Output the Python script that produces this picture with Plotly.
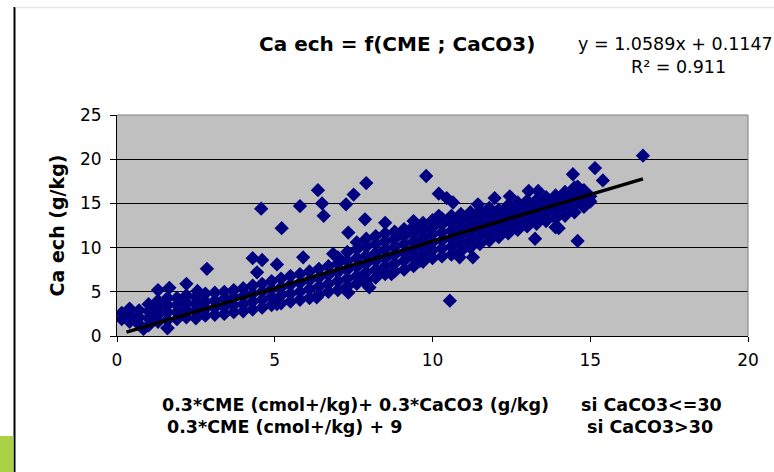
import plotly.graph_objects as go

# ---- data ----
# dense cloud, column by column: x position and the y values stacked at it
band_x = [0.15, 0.4, 0.7, 1.0, 1.3, 1.6, 1.9, 2.2, 2.5, 2.8, 3.1, 3.4, 3.7, 4.0, 4.3, 4.6,
          4.9, 5.2, 5.5, 5.8, 6.1, 6.4, 6.7, 7.0, 7.3, 7.6, 7.9, 8.2, 8.5, 8.8, 9.1, 9.4,
          9.7, 10.0, 10.3, 10.6, 10.9, 11.2, 11.5, 11.8, 12.1, 12.4, 12.7, 13.0, 13.3,
          13.6, 13.9, 14.2, 14.5, 14.8, 15.0]
band_y = [
    [1.9, 2.6], [1.6, 2.4, 3.1], [1.3, 2.1, 2.9], [1.2, 2.0, 2.8, 3.6],
    [1.6, 2.4, 3.2, 4.0], [0.9, 1.8, 2.7, 3.5, 4.3], [1.9, 2.7, 3.5, 4.3],
    [2.1, 3.0, 3.8, 4.6], [2.0, 2.8, 3.6, 4.4], [2.3, 3.1, 3.9, 4.8],
    [2.4, 3.2, 4.0, 4.9], [2.5, 3.3, 4.2, 5.0], [2.7, 3.5, 4.4, 5.2],
    [2.8, 3.6, 4.5, 5.4], [3.0, 3.9, 4.8, 5.7], [3.2, 4.1, 5.0, 5.9],
    [3.5, 4.4, 5.3, 6.2], [3.7, 4.6, 5.5, 6.5], [3.9, 4.8, 5.8, 6.8],
    [4.1, 5.0, 6.0, 7.0], [4.3, 5.3, 6.3, 7.3], [4.7, 5.6, 6.6, 7.6],
    [5.0, 5.9, 6.9, 7.9], [5.2, 6.2, 7.2, 8.2, 8.9], [5.6, 6.5, 7.5, 8.5, 9.5],
    [5.9, 6.8, 7.8, 8.8, 9.8, 10.6], [6.3, 7.2, 8.2, 9.1, 10.1, 11.0],
    [6.6, 7.5, 8.5, 9.4, 10.4, 11.3], [7.0, 7.9, 8.8, 9.8, 10.7, 11.6],
    [7.3, 8.2, 9.2, 10.1, 11.0, 11.8], [7.5, 8.5, 9.4, 10.4, 11.3, 12.1],
    [7.9, 8.9, 9.8, 10.7, 11.6, 12.4], [8.4, 9.3, 10.2, 11.1, 12.0, 12.8],
    [8.8, 9.7, 10.6, 11.5, 12.3, 13.1], [9.0, 9.9, 10.8, 11.7, 12.6, 13.3],
    [9.2, 10.1, 11.0, 11.9, 12.8, 13.6], [9.6, 10.5, 11.4, 12.3, 13.1, 13.8],
    [10.0, 10.9, 11.8, 12.6, 13.4, 14.0], [10.4, 11.3, 12.1, 12.9, 13.6, 14.2],
    [10.8, 11.7, 12.5, 13.3, 14.0, 14.5], [11.2, 12.0, 12.8, 13.6, 14.3],
    [11.6, 12.4, 13.2, 14.0, 14.8], [12.0, 12.8, 13.6, 14.4, 15.1],
    [12.4, 13.1, 13.9, 14.6, 15.3], [12.7, 13.5, 14.2, 14.9, 15.4],
    [13.0, 13.8, 14.5, 15.2, 15.7], [13.3, 14.1, 14.8, 15.5, 15.9],
    [13.6, 14.4, 15.1, 15.8, 16.3], [14.0, 14.8, 15.5, 16.2, 16.8],
    [14.6, 15.3, 16.0, 16.5], [15.2, 15.8],
]
# scattered points around the cloud
out_x = [0.84, 1.6, 1.3, 1.66, 2.2, 2.85, 2.55, 4.3, 4.6, 4.44, 5.07, 4.57, 5.22, 5.8,
         6.37, 6.5, 6.55, 7.26, 7.5, 7.9, 9.8, 10.2, 10.45, 10.65, 10.55, 11.44, 11.97,
         12.45, 13.05, 13.35, 14.45, 15.15, 15.4, 16.67, 14.6, 14.75, 14.98, 13.25,
         13.9, 14.0, 14.6, 10.86, 11.28, 9.6, 8.7, 5.9, 6.85, 6.33, 7.33, 7.9, 8.0,
         7.33, 7.86, 8.5, 9.4, 10.2, 13.95, 5.07]
out_y = [0.8, 0.9, 5.2, 5.45, 5.9, 7.6, 5.1, 8.8, 8.6, 7.2, 8.1, 14.4, 12.2, 14.7,
         16.5, 15.0, 13.6, 14.9, 16.0, 17.3, 18.1, 16.1, 15.6, 15.1, 4.0, 14.9, 15.6,
         15.8, 16.4, 16.4, 18.3, 19.0, 17.6, 20.4, 16.9, 16.4, 15.3, 11.0, 12.3, 12.2,
         10.75, 8.9, 8.9, 8.5, 7.0, 8.9, 9.3, 4.36, 4.9, 5.9, 5.5, 11.7, 13.2, 12.8,
         13.0, 13.6, 15.3, 3.6]
# trendline (Excel linear fit shown on the chart)
slope, intercept = 1.0589, 0.1147
trend_x = [0.3, 16.67]
x_ticks = [0, 5, 10, 15, 20]
y_ticks = [0, 5, 10, 15, 20, 25]

cme = [x for x, ys in zip(band_x, band_y) for _ in ys] + out_x
ca = [y for ys in band_y for y in ys] + out_y
trend_y = [slope * v + intercept for v in trend_x]

W, H = 774, 472
L, R, T, B = 117, 26, 115, 136
pw, ph = W - L - R, H - T - B


def px(x):
    return (x - L) / pw


def py(y):
    return 1 - (y - T) / ph


FONT = "DejaVu Sans, Liberation Sans, Arial, sans-serif"

fig = go.Figure()
fig.add_trace(go.Scatter(
    x=cme, y=ca, mode="markers",
    marker=dict(symbol="diamond", size=11, color="#000080", line=dict(width=0)),
    showlegend=False, hoverinfo="skip"))
fig.add_trace(go.Scatter(
    x=trend_x, y=trend_y, mode="lines",
    line=dict(color="#000000", width=3.5), showlegend=False, hoverinfo="skip"))

fig.update_layout(
    width=W, height=H,
    margin=dict(l=L, r=R, t=T, b=B, pad=0),
    paper_bgcolor="white", plot_bgcolor="#C0C0C0",
    font=dict(family=FONT, color="#000000", size=17),
    xaxis=dict(range=[0, 20], tickvals=x_ticks, ticks="outside", ticklen=5,
               tickcolor="#000", showgrid=False, zeroline=False, showline=True,
               linecolor="#000", linewidth=1, tickfont=dict(size=17), ticklabelstandoff=4),
    yaxis=dict(range=[0, 25], tickvals=y_ticks, ticks="outside", ticklen=6,
               tickcolor="#000", showgrid=True, gridcolor="#000", gridwidth=1,
               zeroline=False, showline=True, linecolor="#000", linewidth=1,
               tickfont=dict(size=17), ticklabelstandoff=5,
               title=dict(text="<b>Ca ech (g/kg)</b>", font=dict(size=19), standoff=10)),
    shapes=[
        dict(type="line", xref="paper", yref="paper", x0=px(748), x1=px(748), y0=0, y1=1,
             line=dict(color="#808080", width=1)),
        dict(type="line", xref="paper", yref="paper", x0=0, x1=px(748), y0=1, y1=1,
             line=dict(color="#808080", width=1)),
        dict(type="line", xref="paper", yref="paper", x0=px(14.5), x1=px(14.5),
             y0=py(7), y1=py(472), line=dict(color="#000", width=2)),
        dict(type="line", xref="paper", yref="paper", x0=px(15.5), x1=px(774),
             y0=py(7.5), y1=py(7.5), line=dict(color="#E6E6E6", width=1.5)),
        dict(type="rect", xref="paper", yref="paper", x0=px(0), x1=px(13.5),
             y0=py(436), y1=py(472), line=dict(width=0), fillcolor="#A9D143"),
    ],
    annotations=[
        dict(text="<b>Ca ech = f(CME ; CaCO3)</b>", x=px(397), y=py(44), xref="paper",
             yref="paper", showarrow=False, font=dict(size=20), xanchor="center",
             yanchor="middle"),
        dict(text="y = 1.0589x + 0.1147", x=px(576), y=py(44), xref="paper",
             yref="paper", showarrow=False, font=dict(size=17.5), xanchor="left",
             yanchor="middle"),
        dict(text="R² = 0.911", x=px(678), y=py(67), xref="paper", yref="paper",
             showarrow=False, font=dict(size=17.5), xanchor="center", yanchor="middle"),
        dict(text="<b>0.3*CME (cmol+/kg)+ 0.3*CaCO3 (g/kg)</b>", x=px(160), y=py(405),
             xref="paper", yref="paper", showarrow=False, font=dict(size=17.5),
             xanchor="left", yanchor="middle"),
        dict(text="<b>0.3*CME (cmol+/kg) + 9</b>", x=px(165), y=py(427),
             xref="paper", yref="paper", showarrow=False, font=dict(size=17.5),
             xanchor="left", yanchor="middle"),
        dict(text="<b>si CaCO3<=30</b>", x=px(651), y=py(405),
             xref="paper", yref="paper", showarrow=False, font=dict(size=17.5),
             xanchor="center", yanchor="middle"),
        dict(text="<b>si CaCO3>30</b>", x=px(650), y=py(427),
             xref="paper", yref="paper", showarrow=False, font=dict(size=17.5),
             xanchor="center", yanchor="middle"),
    ],
)

fig.write_html("out.html")
